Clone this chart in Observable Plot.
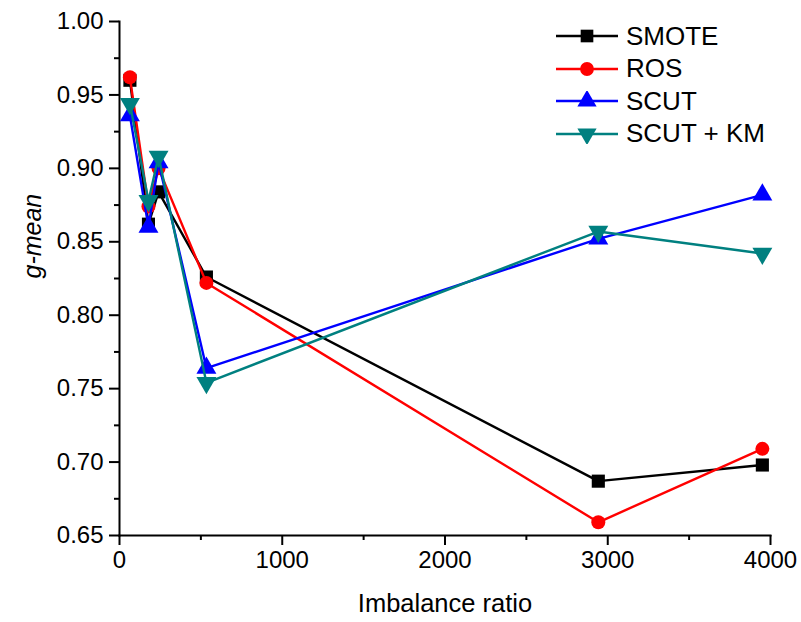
<!DOCTYPE html>
<html>
<head>
<meta charset="utf-8">
<script src="https://cdn.jsdelivr.net/npm/d3@7"></script>
<script src="https://cdn.jsdelivr.net/npm/@observablehq/plot@0.6"></script>
<style>
  html, body { margin: 0; padding: 0; background: #fff; }
  #wrap { position: relative; width: 801px; height: 622px; font-family: "Liberation Sans", Arial, sans-serif; }
  #legend { position: absolute; left: 556px; top: 20px; }
  .row { display: flex; align-items: center; height: 32.5px; }
  .row span { font-size: 26px; margin-left: 8px; color: #000; }
</style>
</head>
<body>
<div id="wrap"><div id="legend"></div></div>
<script>
const ratios = [64, 178, 240, 534, 2942, 3950];
const seriesNames = ["SMOTE", "ROS", "SCUT", "SCUT + KM"];
const smote = [0.960, 0.862, 0.884, 0.826, 0.687, 0.698];
const ros = [0.962, 0.874, 0.900, 0.822, 0.659, 0.709];
const scut = [0.936, 0.860, 0.904, 0.764, 0.852, 0.882];
const scutKm = [0.944, 0.878, 0.908, 0.754, 0.857, 0.842];
const colors = ["#000000", "#ff0000", "#0000ff", "#008080"];
const symbols = ["square", "circle", "triangle", "triangle"];
const rotations = [0, 0, 0, 180];
const yTicks = [0.65, 0.70, 0.75, 0.80, 0.85, 0.90, 0.95, 1.00];
const yMinor = [0.675, 0.725, 0.775, 0.825, 0.875, 0.925, 0.975];
const xTicks = [0, 1000, 2000, 3000, 4000];
const xMinor = [500, 1500, 2500, 3500];

const values = [smote, ros, scut, scutKm];
const table = [];
values.forEach((vals, s) => vals.forEach((v, i) => table.push({series: seriesNames[s], x: ratios[i], y: v, s})));

const marks = [];
seriesNames.forEach((name, s) => {
  const d = table.filter(r => r.series === name);
  marks.push(Plot.line(d, {x: "x", y: "y", stroke: colors[s], strokeWidth: 2.4}));
  marks.push(Plot.dot(d, {x: "x", y: "y", fill: colors[s], stroke: "none", symbol: symbols[s], r: s === 1 ? 7 : 7.4, rotate: rotations[s]}));
});

const chart = Plot.plot({
  width: 801,
  height: 622,
  marginLeft: 119,
  marginRight: 31,
  marginTop: 21,
  marginBottom: 87,
  style: {fontFamily: "'Liberation Sans', Arial, sans-serif", background: "white", color: "black"},
  x: {domain: [0, 4000]},
  y: {domain: [0.65, 1.00]},
  marks: [
    Plot.axisY(yTicks, {tickSize: 10, tickPadding: 6, fontSize: 24, tickFormat: d3.format(".2f"), label: null, stroke: "black", strokeWidth: 2}),
    Plot.axisY(yMinor, {tickSize: 5, text: null, label: null, stroke: "black", strokeWidth: 2}),
    Plot.axisX(xTicks, {tickSize: 10, tickPadding: 5, fontSize: 24, tickFormat: d3.format("d"), label: null, stroke: "black", strokeWidth: 2}),
    Plot.axisX(xMinor, {tickSize: 5, text: null, label: null, stroke: "black", strokeWidth: 2}),
    Plot.frame({anchor: "left", stroke: "black", strokeWidth: 2}),
    Plot.frame({anchor: "bottom", stroke: "black", strokeWidth: 2}),
    Plot.text(["g-mean"], {frameAnchor: "left", dx: -87, rotate: -90, fontSize: 25, fontStyle: "italic", fill: "black"}),
    Plot.text(["Imbalance ratio"], {frameAnchor: "bottom", dy: 76, fontSize: 25.5, fill: "black"}),
    ...marks
  ]
});
document.getElementById("wrap").prepend(chart);

// legend
const legend = d3.select("#legend");
seriesNames.forEach((name, s) => {
  const row = legend.append("div").attr("class", "row");
  const svg = row.append("svg").attr("width", 62).attr("height", 20);
  svg.append("line").attr("x1", 0).attr("x2", 62).attr("y1", 10).attr("y2", 10).attr("stroke", colors[s]).attr("stroke-width", 2.4);
  const sym = d3.symbol().type(s === 0 ? d3.symbolSquare : s === 1 ? d3.symbolCircle : d3.symbolTriangle).size(s === 1 ? 150 : 160);
  svg.append("path").attr("d", sym()).attr("transform", `translate(31,10) rotate(${rotations[s]})`).attr("fill", colors[s]);
  row.append("span").text(name);
});
</script>
</body>
</html>
